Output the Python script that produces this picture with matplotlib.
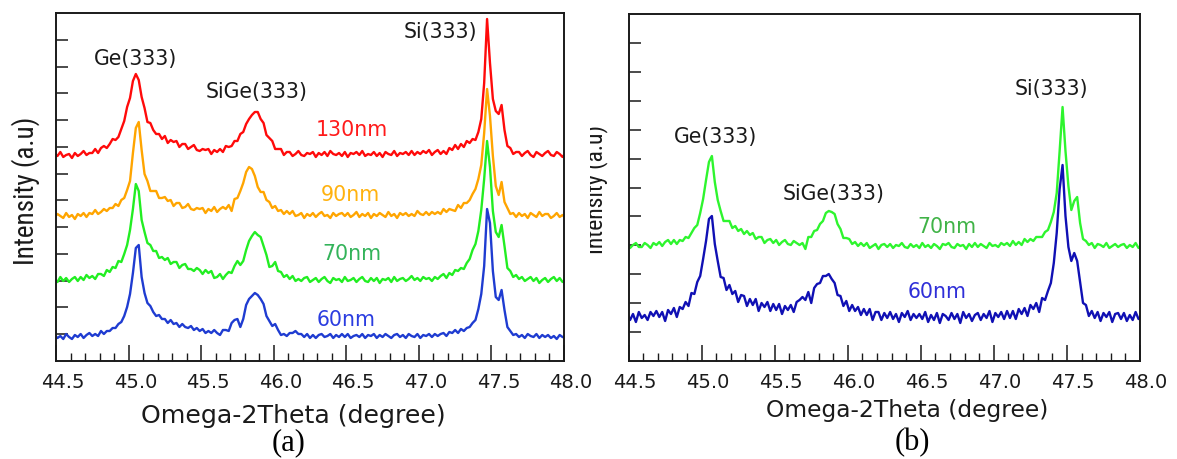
import numpy as np
import matplotlib
matplotlib.use("Agg")
import matplotlib.pyplot as plt
from matplotlib.ticker import FixedLocator, NullFormatter
from matplotlib.transforms import Bbox, TransformedBbox, ScaledTranslation
from matplotlib import font_manager as fm

# ---------------- data ----------------
# scan grid (Omega-2Theta, degree): start, step, number of points
scan_start, scan_step, scan_points = 44.49, 0.02, 177
two_theta = np.round(scan_start + scan_step * np.arange(scan_points), 2)

tick_values = [44.5, 45.0, 45.5, 46.0, 46.5, 47.0, 47.5, 48.0]
tick_labels = ["44.5", "45.0", "45.5", "46.0", "46.5", "47.0", "47.5", "48.0"]

# panel (a) intensities (a.u., stacked)
int_130nm_a = [
    208, 205, 209, 204, 206, 207, 203, 208, 205, 207,
    210, 206, 208, 208, 212, 208, 213, 215, 213, 217,
    222, 221, 224, 232, 240, 254, 263, 280, 287, 281,
    264, 253, 239, 238, 231, 227, 227, 222, 225, 218,
    221, 219, 220, 214, 217, 217, 212, 214, 216, 211,
    210, 212, 211, 212, 207, 211, 209, 212, 209, 215,
    214, 215, 220, 220, 227, 229, 237, 242, 246, 249,
    249, 242, 238, 226, 223, 220, 212, 212, 212, 206,
    209, 209, 205, 207, 210, 206, 205, 208, 207, 209,
    204, 208, 206, 209, 205, 210, 207, 206, 208, 205,
    209, 204, 208, 207, 209, 206, 210, 205, 207, 206,
    209, 205, 208, 204, 209, 207, 206, 210, 205, 208,
    207, 209, 206, 210, 206, 209, 207, 210, 208, 211,
    206, 209, 211, 207, 210, 207, 213, 211, 216, 212,
    217, 214, 220, 218, 222, 221, 229, 242, 278, 342,
    298, 262, 250, 247, 256, 231, 215, 213, 207, 209,
    209, 205, 208, 210, 206, 204, 209, 207, 205, 208,
    210, 206, 205, 209, 207, 204, 208]

int_90nm_a = [
    144, 147, 145, 143, 148, 144, 146, 142, 147, 145,
    148, 144, 148, 147, 151, 147, 149, 152, 150, 153,
    153, 157, 155, 161, 163, 171, 180, 208, 233, 239,
    211, 187, 180, 170, 170, 170, 163, 163, 164, 160,
    161, 155, 158, 158, 153, 154, 157, 152, 151, 153,
    152, 153, 148, 152, 150, 154, 149, 152, 154, 152,
    156, 150, 162, 163, 170, 178, 189, 194, 192, 185,
    174, 169, 169, 161, 159, 153, 155, 150, 151, 147,
    150, 147, 150, 145, 146, 148, 143, 147, 145, 148,
    144, 147, 149, 145, 146, 143, 148, 145, 147, 148,
    145, 148, 144, 146, 149, 144, 147, 145, 148, 143,
    147, 145, 148, 146, 144, 149, 145, 147, 143, 148,
    146, 148, 145, 147, 145, 150, 147, 146, 149, 146,
    149, 147, 149, 147, 152, 149, 152, 151, 150, 156,
    153, 158, 158, 161, 167, 172, 182, 196, 228, 272,
    245, 205, 175, 166, 179, 159, 153, 147, 148, 144,
    148, 145, 147, 143, 148, 146, 144, 149, 145, 147,
    147, 143, 145, 148, 144, 146, 143]

int_70nm_a = [
    82, 79, 84, 80, 83, 79, 82, 84, 80, 84,
    81, 86, 83, 85, 82, 87, 87, 85, 91, 89,
    94, 93, 100, 99, 107, 116, 131, 152, 177, 170,
    141, 129, 118, 116, 110, 110, 103, 104, 101, 103,
    97, 99, 99, 93, 96, 97, 92, 92, 90, 93,
    91, 87, 91, 88, 90, 83, 84, 87, 82, 86,
    89, 88, 95, 100, 96, 100, 111, 120, 125, 129,
    126, 124, 115, 106, 94, 95, 99, 90, 89, 84,
    86, 82, 85, 80, 82, 80, 83, 84, 79, 81,
    83, 79, 82, 84, 80, 78, 83, 81, 82, 79,
    84, 80, 81, 83, 79, 82, 84, 80, 79, 83,
    80, 83, 78, 82, 81, 83, 79, 84, 80, 82,
    83, 80, 82, 85, 81, 83, 80, 84, 82, 83,
    80, 84, 82, 85, 87, 83, 88, 86, 91, 90,
    93, 92, 98, 102, 111, 117, 130, 151, 182, 220,
    194, 150, 129, 124, 136, 115, 93, 90, 84, 86,
    82, 84, 80, 82, 84, 80, 83, 78, 81, 83,
    79, 82, 84, 80, 83, 79, 81]

int_60nm_a = [
    26, 23, 25, 22, 27, 24, 22, 26, 24, 27,
    23, 26, 28, 25, 27, 25, 30, 27, 30, 30,
    33, 33, 37, 39, 45, 54, 67, 88, 113, 116,
    84, 68, 58, 55, 49, 45, 46, 42, 42, 38,
    41, 37, 38, 34, 37, 34, 33, 35, 31, 33,
    30, 32, 28, 30, 28, 31, 28, 26, 31, 31,
    30, 38, 41, 42, 34, 42, 56, 62, 65, 68,
    66, 62, 57, 45, 40, 35, 37, 31, 26, 27,
    25, 28, 28, 30, 27, 27, 24, 27, 23, 26,
    23, 26, 27, 24, 25, 27, 23, 26, 24, 27,
    24, 27, 23, 25, 26, 24, 27, 23, 26, 25,
    27, 23, 26, 24, 27, 25, 23, 26, 27, 24,
    26, 23, 27, 25, 24, 27, 23, 26, 25, 27,
    24, 27, 25, 27, 28, 25, 29, 28, 31, 28,
    32, 30, 33, 34, 38, 41, 52, 67, 95, 152,
    138, 90, 64, 61, 71, 51, 34, 30, 26, 27,
    24, 26, 23, 27, 25, 24, 27, 23, 26, 24,
    26, 23, 25, 22, 26, 24, 23]

# panel (b) intensities (a.u., stacked)
int_70nm_b = [
    117, 113, 116, 118, 114, 114, 118, 116, 113, 118,
    116, 119, 115, 119, 121, 117, 121, 117, 121, 120,
    124, 123, 128, 133, 136, 148, 162, 181, 199, 205,
    179, 161, 150, 140, 140, 140, 133, 135, 130, 132,
    127, 130, 126, 128, 122, 124, 124, 118, 121, 122,
    118, 121, 116, 119, 121, 117, 116, 120, 118, 116,
    118, 112, 124, 124, 130, 131, 137, 140, 148, 150,
    149, 147, 137, 132, 123, 123, 122, 117, 119, 115,
    118, 115, 118, 113, 115, 117, 112, 116, 117, 114,
    117, 113, 116, 115, 118, 114, 113, 117, 114, 116,
    113, 118, 114, 116, 113, 117, 115, 112, 117, 116,
    118, 114, 113, 117, 115, 116, 112, 117, 114, 118,
    114, 117, 115, 113, 118, 115, 116, 114, 118, 116,
    118, 115, 120, 116, 119, 116, 122, 119, 122, 120,
    124, 124, 124, 129, 131, 139, 149, 168, 210, 254,
    210, 175, 151, 160, 164, 138, 122, 120, 116, 118,
    113, 117, 116, 114, 118, 113, 115, 117, 114, 116,
    117, 113, 116, 114, 118, 113, 115]

int_60nm_b = [
    48, 41, 47, 39, 49, 43, 46, 41, 49, 45,
    50, 44, 49, 40, 51, 47, 53, 44, 54, 52,
    59, 55, 68, 67, 79, 85, 102, 120, 142, 145,
    117, 100, 84, 83, 71, 76, 67, 70, 59, 66,
    65, 55, 62, 56, 62, 50, 58, 54, 59, 50,
    57, 51, 57, 47, 55, 51, 56, 49, 59, 61,
    64, 61, 69, 58, 73, 77, 78, 85, 85, 87,
    82, 78, 66, 65, 55, 60, 50, 56, 50, 54,
    46, 52, 46, 52, 41, 49, 49, 41, 48, 43,
    49, 42, 47, 39, 48, 44, 50, 41, 47, 43,
    47, 42, 49, 39, 46, 41, 48, 38, 47, 45,
    41, 48, 42, 47, 38, 49, 43, 47, 40, 46,
    48, 41, 47, 43, 50, 39, 48, 44, 49, 42,
    50, 43, 50, 42, 52, 47, 53, 45, 56, 52,
    58, 49, 63, 61, 70, 78, 98, 128, 172, 196,
    145, 114, 100, 108, 100, 79, 58, 56, 45, 50,
    43, 49, 40, 48, 44, 49, 39, 47, 48, 42,
    48, 40, 46, 41, 49, 42, 45]

# ---------------- figure ----------------
W, H = 1177, 459
fig = plt.figure(figsize=(W / 100, H / 100), dpi=100)
fig.patch.set_facecolor("white")

axA = fig.add_axes([56 / W, 1 - 361 / H, 508 / W, 348 / H])
axB = fig.add_axes([628.6 / W, 1 - 361 / H, 511.4 / W, 347 / H])

INK = "#1a1a1a"


def style(ax, ymax, n_yticks, dx_px):
    ax.set_xlim(44.5, 48.0)
    ax.set_ylim(0, ymax)
    ax.set_xticks(tick_values)
    ax.set_xticklabels(tick_labels)
    ax.xaxis.set_minor_locator(FixedLocator(np.round(np.arange(44.5, 48.001, 0.1), 1)))
    ax.yaxis.set_major_locator(FixedLocator([ymax * k / (n_yticks + 1) for k in range(1, n_yticks + 1)]))
    ax.yaxis.set_major_formatter(NullFormatter())
    ax.tick_params(axis="x", which="major", direction="in", length=11.3, width=1.1,
                   labelsize=14, pad=8.5, top=False, colors=INK)
    ax.tick_params(axis="x", which="minor", direction="in", length=6, width=1.0,
                   top=False, colors=INK)
    ax.tick_params(axis="y", which="major", direction="in", length=8.5, width=1.1,
                   right=False, colors=INK)
    for sp in ax.spines.values():
        sp.set_linewidth(1.4)
        sp.set_color(INK)
    off = ScaledTranslation(dx_px / 100, 0, fig.dpi_scale_trans)
    for t in ax.xaxis.get_major_ticks():
        t.label1.set_transform(t.label1.get_transform() + off)


style(axA, 348, 12, 7)
style(axB, 347, 11, 6)

# curves
LW = 1.7
axA.plot(two_theta, int_130nm_a, color="#ff0a0a", lw=LW)
axA.plot(two_theta, int_90nm_a, color="#ffa500", lw=LW)
axA.plot(two_theta, int_70nm_a, color="#22ee22", lw=LW)
axA.plot(two_theta, int_60nm_a, color="#1f3cd1", lw=LW)

axB.plot(two_theta, int_70nm_b, color="#2ef52e", lw=LW)
axB.plot(two_theta, int_60nm_b, color="#1010b4", lw=LW)

# annotations
ann = dict(ha="center", va="center", fontsize=14.8)
axA.text(45.051, 302, "Ge(333)", color=INK, **ann)
axA.text(45.885, 269, "SiGe(333)", color=INK, **ann)
axA.text(47.146, 329, "Si(333)", color=INK, **ann)
axA.text(46.539, 231, "130nm", color="#ff1a1a", **ann)
axA.text(46.526, 166, "90nm", color="#ffb20f", **ann)
axA.text(46.539, 107, "70nm", color="#33b35a", **ann)
axA.text(46.498, 41, "60nm", color="#2b3de0", **ann)

axB.text(45.098, 224, "Ge(333)", color=INK, **ann)
axB.text(45.906, 167, "SiGe(333)", color=INK, **ann)
axB.text(47.391, 272, "Si(333)", color=INK, **ann)
axB.text(46.679, 134, "70nm", color="#40b347", **ann)
axB.text(46.610, 69, "60nm", color="#2f2fd8", **ann)


# axis titles
def available(name):
    try:
        fm.findfont(fm.FontProperties(family=name), fallback_to_default=False)
        return True
    except Exception:
        return False


narrow = None
for cand in ["Liberation Sans Narrow", "Roboto Condensed", "DejaVu Sans Condensed", "Open Sans Condensed"]:
    if available(cand):
        narrow = cand
        break
if narrow is not None:
    yfam, ysizeA, ysizeB = [narrow, "DejaVu Sans"], 19.5, 17
else:
    yfam, ysizeA, ysizeB = ["DejaVu Sans"], 14.8, 12.9

fig.text(26 / W, 1 - 191 / H, "Intensity (a.u)", rotation=90, ha="center", va="center",
         fontsize=ysizeA, family=yfam, color=INK)
ylb = fig.text(596 / W, 1 - 190 / H, "Intensity (a.u)", rotation=90, ha="center", va="center",
               fontsize=ysizeB, family=yfam, color=INK)
ylb.set_clip_box(TransformedBbox(Bbox.from_extents(590.5 / W, 0, 1, 1), fig.transFigure))
ylb.set_clip_on(True)

fig.text(293 / W, 1 - 416 / H, "Omega-2Theta (degree)", ha="center", va="center",
         fontsize=18.2, color=INK)
fig.text(907 / W, 1 - 410 / H, "Omega-2Theta (degree)", ha="center", va="center",
         fontsize=16.8, color=INK)

serif = ["Liberation Serif", "DejaVu Serif"]
fig.text(289 / W, 1 - 443 / H, "(a)", ha="center", va="center", fontsize=22,
         family=serif, color="black")
fig.text(912 / W, 1 - 443 / H, "(b)", ha="center", va="center", fontsize=22,
         family=serif, color="black")

fig.savefig("out.png", dpi=100, facecolor="white")
